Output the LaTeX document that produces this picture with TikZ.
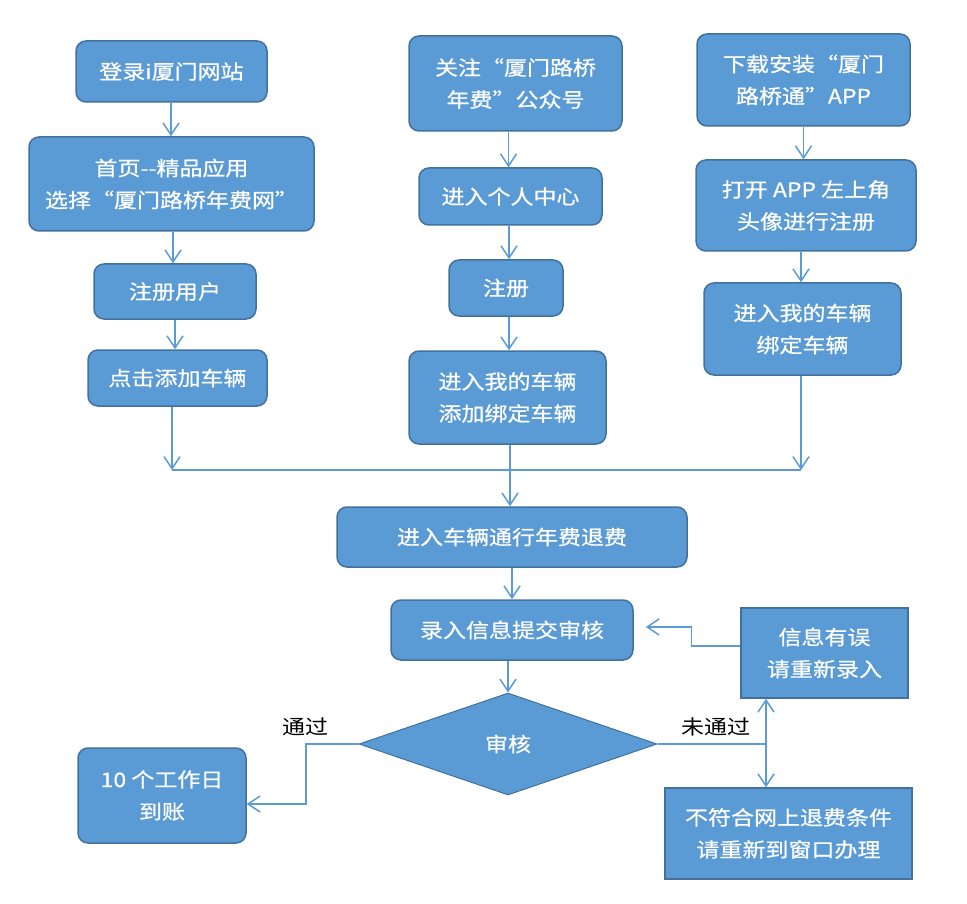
\documentclass[tikz,border=0pt]{standalone}
\usepackage{fontspec}
\newfontfamily\cjk[FakeStretch=1.15,FakeBold=0.6]{Noto Sans CJK SC}
\newfontfamily\cjkthin[FakeStretch=1.15]{Noto Sans CJK SC}
\definecolor{boxfill}{HTML}{5B9BD5}
\definecolor{boxline}{HTML}{41719C}
\usetikzlibrary{shapes.geometric,arrows.meta}
\begin{document}
\begin{tikzpicture}[x=1pt, y=-1pt,
      every node/.style={font=\cjk\fontsize{20}{32}\selectfont, align=center, inner sep=0pt},
      stepbox/.style={draw=boxline, fill=boxfill, line width=1.5pt, text=white, rounded corners=10pt},
      flatbox/.style={stepbox, rounded corners=0pt},
      checkbox/.style={diamond, draw=boxline, fill=boxfill, line width=1pt, text=white, aspect=2.92, minimum width=298pt, minimum height=102pt},
      arr/.style={draw=boxfill, line width=1.5pt, -{Straight Barb[length=12pt,width=16pt]}},
      link/.style={draw=boxfill, line width=1.5pt},
      tag/.style={text=black, font=\cjkthin\fontsize{20}{32}\selectfont}]

      \useasboundingbox (0,0) rectangle (967,904);

      \node[stepbox, minimum width=191pt, minimum height=61pt] (login) at (171.5,71.5) {登录i厦门网站};
      \node[stepbox, minimum width=285pt, minimum height=94pt] (home) at (171.5,184) {首页--精品应用\\选择“厦门路桥年费网”};
      \node[stepbox, minimum width=162pt, minimum height=55pt] (reguser) at (175,291.5) {注册用户};
      \node[stepbox, minimum width=179pt, minimum height=56pt] (addcar) at (177.5,378) {点击添加车辆};

      \node[stepbox, minimum width=213pt, minimum height=95pt] (follow) at (515.5,83.5) {关注“厦门路桥\\年费”公众号};
      \node[stepbox, minimum width=183pt, minimum height=57pt] (center) at (510.5,196.5) {进入个人中心};
      \node[stepbox, minimum width=114pt, minimum height=56pt] (reg) at (506,288) {注册};
      \node[stepbox, minimum width=197pt, minimum height=93pt] (bindwx) at (507.5,397.5) {进入我的车辆\\添加绑定车辆};

      \node[stepbox, minimum width=213pt, minimum height=92pt] (install) at (803.5,80) {下载安装“厦门\\路桥通”APP};
      \node[stepbox, minimum width=220pt, minimum height=91pt] (openapp) at (806,205.5) {打开 APP 左上角\\头像进行注册};
      \node[stepbox, minimum width=197pt, minimum height=92pt] (bindapp) at (802.5,329) {进入我的车辆\\ 绑定车辆};

      \node[stepbox, minimum width=350pt, minimum height=60pt] (refund) at (512,537) {进入车辆通行年费退费};
      \node[stepbox, minimum width=242pt, minimum height=60pt] (submit) at (512,630) {录入信息提交审核};
      \node[checkbox] (audit) at (508,744) {审核};
      \node[stepbox, minimum width=168pt, minimum height=95pt] (paid) at (162,795.5) {10 个工作日\\到账};
      \node[flatbox, minimum width=167pt, minimum height=90pt] (retry) at (824.5,653) {信息有误\\请重新录入};
      \node[flatbox, minimum width=247pt, minimum height=91pt] (window) at (788.5,833.5) {不符合网上退费条件\\请重新到窗口办理};

      \node[tag] (pass) at (305,727) {通过};
      \node[tag] (fail) at (716,727) {未通过};

      \coordinate (jl) at (172,470);
      \coordinate (jr) at (801,470);
      \coordinate (split) at (766,744);

      \draw[arr] ([xshift=-0.5pt]login.south) -- ([xshift=-0.5pt]login.south |- home.north);
      \draw[arr] ([xshift=1.5pt]home.south) -- ([xshift=1.5pt]home.south |- reguser.north);
      \draw[arr] (reguser.south) -- (reguser.south |- addcar.north);
      \draw[arr] ([xshift=-7pt]follow.south) -- ([xshift=-7pt]follow.south |- center.north);
      \draw[arr] ([xshift=-1.5pt]center.south) -- ([xshift=-1.5pt]center.south |- reg.north);
      \draw[arr] ([xshift=3pt]reg.south) -- ([xshift=3pt]reg.south |- bindwx.north);
      \draw[arr] (install.south) -- (install.south |- openapp.north);
      \draw[arr] ([xshift=-5pt]openapp.south) -- ([xshift=-5pt]openapp.south |- bindapp.north);

      \draw[arr] (addcar.south -| jl) -- (jl);
      \draw[arr] (bindapp.south -| jr) -- (jr);
      \draw[link] (jl) -- (jr);
      \draw[arr] ([xshift=2.5pt]bindwx.south) -- ([xshift=2.5pt]bindwx.south |- refund.north);
      \draw[arr] (refund.south) -- (refund.south |- submit.north);
      \draw[arr] (audit.north |- submit.south) -- (audit.north);

      \draw[arr] (audit.west) -- (306,744) |- ([yshift=-8.5pt]paid.east);
      \draw[link] (audit.east) -- (split);
      \draw[arr] (split) -- (split |- retry.south);
      \draw[arr] (split) -- (split |- window.north);
      \draw[arr] ([yshift=7pt]retry.west) -- ++(-49,0) |- ([xshift=12pt,yshift=3pt]submit.east);
    \end{tikzpicture}
\end{document}
